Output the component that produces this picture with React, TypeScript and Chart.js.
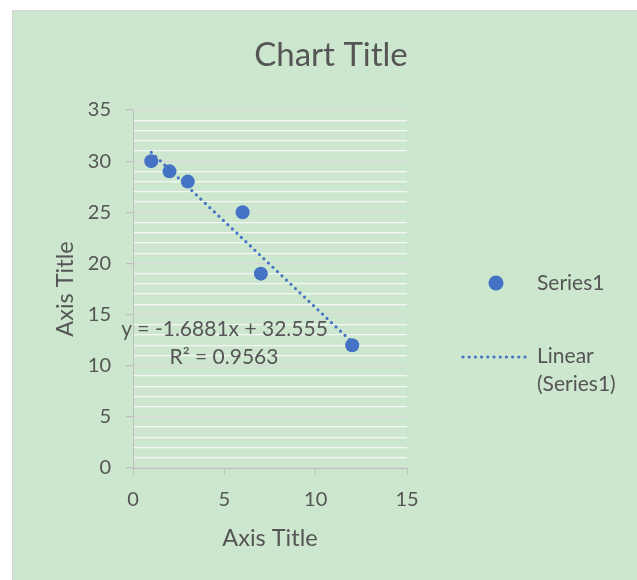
import React, { useEffect, useRef } from "react";
import { Chart, registerables } from "chart.js";

Chart.register(...registerables);

// Observations of Series1
const xValues = [1, 2, 3, 6, 7, 12];
const yValues = [30, 29, 28, 25, 19, 12];

// Linear trendline fitted to Series1
const trendSlope = -1.6881;
const trendIntercept = 32.555;
const trendRSquared = 0.9563;
const trendXRange = [1, 12];

// Axes
const xAxisMax = 15;
const xTickStep = 5;
const yAxisMax = 35;
const yMajorStep = 5;
const yMinorStep = 1;

// Texts
const chartTitle = "Chart Title";
const xAxisTitle = "Axis Title";
const yAxisTitle = "Axis Title";
const seriesName = "Series1";
const trendLegendLines = ["Linear", "(Series1)"];

const FONT = "Lato, 'Open Sans', sans-serif";
const TEXT = "#555555";
const BLUE = "#4472C4";
const AXIS_LINE = "#bfbfbf";
const MAJOR_GRID = "#d9d9d9";
const MINOR_GRID = "#f3f6f3";
const BG = "#cde7cf";
const DOT_WIDTH = 3.2;
const DOT_DASH = [0, 6.2];

const equationText = `y = ${trendSlope}x + ${trendIntercept}`;
const rSquaredText = `R² = ${trendRSquared}`;

const decorPlugin = {
  id: "decor",
  afterDraw(chart: any) {
    const ctx = chart.ctx as CanvasRenderingContext2D;
    ctx.save();
    ctx.fillStyle = TEXT;
    ctx.textBaseline = "middle";

    // chart title
    ctx.font = `33px ${FONT}`;
    ctx.textAlign = "center";
    ctx.fillText(chartTitle, 318, 44);

    // trendline equation and R²
    ctx.font = `21px ${FONT}`;
    ctx.fillText(equationText, 211.5, 318);
    ctx.fillText(rSquaredText, 211, 346.5);

    // legend
    ctx.textAlign = "left";
    ctx.fillText(seriesName, 524, 272);
    trendLegendLines.forEach((line, i) => ctx.fillText(line, 524, 345 + i * 28.5));

    ctx.fillStyle = BLUE;
    ctx.beginPath();
    ctx.arc(483, 272, 7.5, 0, Math.PI * 2);
    ctx.fill();

    ctx.strokeStyle = BLUE;
    ctx.lineWidth = DOT_WIDTH;
    ctx.lineCap = "round";
    ctx.setLineDash(DOT_DASH);
    ctx.beginPath();
    ctx.moveTo(450, 346);
    ctx.lineTo(518, 346);
    ctx.stroke();
    ctx.restore();
  },
};

export default function App() {
  const canvasRef = useRef<HTMLCanvasElement | null>(null);

  useEffect(() => {
    const canvas = canvasRef.current;
    if (!canvas) return;

    const points = xValues.map((x, i) => ({ x, y: yValues[i] }));
    const trendPoints = trendXRange.map((x) => ({ x, y: trendSlope * x + trendIntercept }));

    const chart = new Chart(canvas, {
      type: "scatter",
      data: {
        datasets: [
          {
            label: "Linear (Series1)",
            data: trendPoints,
            showLine: true,
            borderColor: BLUE,
            borderWidth: DOT_WIDTH,
            borderDash: DOT_DASH,
            borderCapStyle: "round",
            pointRadius: 0,
            fill: false,
          },
          {
            label: seriesName,
            data: points,
            backgroundColor: BLUE,
            borderColor: BLUE,
            borderWidth: 0,
            pointRadius: 7,
          },
        ],
      },
      plugins: [decorPlugin],
      options: {
        responsive: false,
        animation: false,
        events: [],
        layout: { padding: { top: 99, right: 230, left: 0, bottom: 0 } },
        plugins: {
          legend: { display: false },
          tooltip: { enabled: false },
          title: { display: false },
        },
        scales: {
          x: {
            type: "linear",
            min: 0,
            max: xAxisMax,
            afterFit: (s: any) => {
              s.height = 112;
            },
            ticks: {
              stepSize: xTickStep,
              color: TEXT,
              font: { family: FONT, size: 20 },
              padding: 13,
              maxRotation: 0,
            },
            grid: {
              drawOnChartArea: false,
              drawTicks: true,
              tickLength: 7,
              tickColor: AXIS_LINE,
            },
            border: { color: AXIS_LINE, width: 1 },
            title: {
              display: true,
              text: xAxisTitle,
              color: TEXT,
              font: { family: FONT, size: 23.5 },
              padding: { top: 0, bottom: 27 },
            },
          },
          y: {
            type: "linear",
            min: 0,
            max: yAxisMax,
            afterFit: (s: any) => {
              s.width = 120;
            },
            ticks: {
              stepSize: yMinorStep,
              autoSkip: false,
              color: TEXT,
              font: { family: FONT, size: 20 },
              padding: 15,
              callback: (v: any) => (Number(v) % yMajorStep === 0 ? String(v) : ""),
            },
            grid: {
              color: (c: any) => (c.tick && c.tick.value % yMajorStep === 0 ? MAJOR_GRID : MINOR_GRID),
              tickColor: (c: any) =>
                c.tick && c.tick.value % yMajorStep === 0 ? AXIS_LINE : "rgba(0,0,0,0)",
              tickLength: 7,
              lineWidth: 1.25,
            },
            border: { color: AXIS_LINE, width: 1 },
            title: {
              display: true,
              text: yAxisTitle,
              color: TEXT,
              font: { family: FONT, size: 23.5 },
              padding: { top: 38, bottom: 0 },
            },
          },
        },
      },
    } as any);

    return () => chart.destroy();
  }, []);

  return (
    <div
      style={{
        position: "absolute",
        left: 12,
        top: 10,
        width: 625,
        height: 570,
        boxSizing: "border-box",
        borderLeft: "1px solid #d4d4d4",
        borderTop: "1px solid #d4d4d4",
        background: BG,
        overflow: "hidden",
      }}
    >
      <canvas ref={canvasRef} width={624} height={569} style={{ display: "block" }} />
    </div>
  );
}
